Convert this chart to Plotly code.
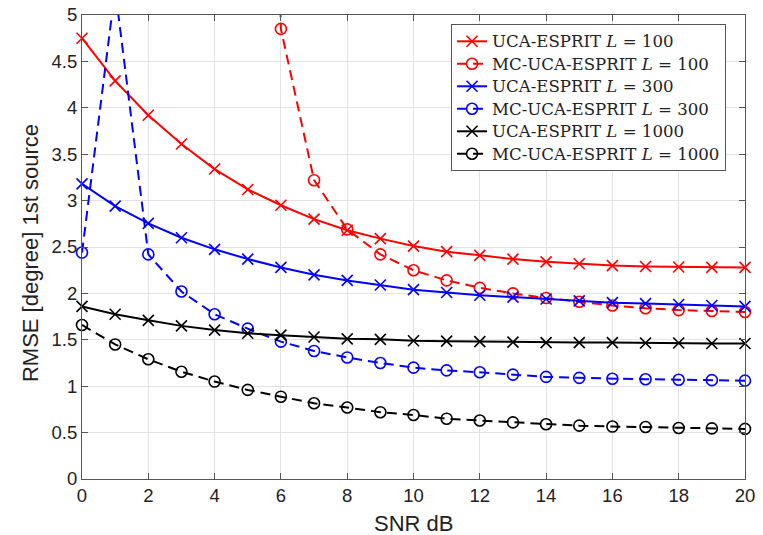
import plotly.graph_objects as go

snr = list(range(0, 21))

uca_100 = [4.75, 4.29, 3.92, 3.61, 3.34, 3.12, 2.95, 2.80, 2.68, 2.59, 2.51,
           2.45, 2.41, 2.37, 2.34, 2.32, 2.30, 2.29, 2.285, 2.28, 2.28]
mc_100 = [40.0, 36.0, 32.0, 28.0, 24.0, 20.0, 4.85, 3.22, 2.69, 2.42, 2.25,
          2.14, 2.06, 2.00, 1.95, 1.91, 1.87, 1.84, 1.82, 1.81, 1.80]
uca_300 = [3.18, 2.94, 2.755, 2.60, 2.475, 2.37, 2.28, 2.20, 2.14, 2.09, 2.04,
           2.01, 1.98, 1.96, 1.94, 1.92, 1.90, 1.89, 1.88, 1.87, 1.86]
mc_300 = [2.44, 5.28, 2.42, 2.02, 1.775, 1.62, 1.48, 1.38, 1.31, 1.25, 1.20,
          1.17, 1.15, 1.125, 1.10, 1.09, 1.08, 1.075, 1.07, 1.065, 1.06]
uca_1000 = [1.86, 1.775, 1.71, 1.65, 1.605, 1.57, 1.55, 1.53, 1.51, 1.505, 1.49,
            1.485, 1.48, 1.475, 1.47, 1.47, 1.47, 1.465, 1.465, 1.46, 1.46]
mc_1000 = [1.66, 1.45, 1.29, 1.156, 1.05, 0.96, 0.887, 0.816, 0.77, 0.72, 0.69,
           0.65, 0.63, 0.61, 0.59, 0.575, 0.565, 0.56, 0.55, 0.545, 0.54]

labels = ["UCA-ESPRIT <i>L</i> = 100", "MC-UCA-ESPRIT <i>L</i> = 100",
          "UCA-ESPRIT <i>L</i> = 300", "MC-UCA-ESPRIT <i>L</i> = 300",
          "UCA-ESPRIT <i>L</i> = 1000", "MC-UCA-ESPRIT <i>L</i> = 1000"]
values = [uca_100, mc_100, uca_300, mc_300, uca_1000, mc_1000]
colors = ["#ff0000", "#ff0000", "#0000ff", "#0000ff", "#000000", "#000000"]
dashes = ["solid", "10px,6px"] * 3
symbols = ["x-thin-open", "circle-open"] * 3

x_ticks = list(range(0, 21, 2))
y_ticks = [0, 0.5, 1, 1.5, 2, 2.5, 3, 3.5, 4, 4.5, 5]
y_ticktext = ["0", "0.5", "1", "1.5", "2", "2.5", "3", "3.5", "4", "4.5", "5"]

fig = go.Figure()
for name, vals, color, dash, sym in zip(labels, values, colors, dashes, symbols):
    fig.add_trace(go.Scatter(
        x=snr, y=vals, mode="lines+markers",
        name='<span style="font-size:16.6px">' + name + '</span>',
        line=dict(color=color, width=2, dash=dash),
        marker=dict(symbol=sym, size=11, color=color,
                    line=dict(color=color, width=1.6)),
        cliponaxis=False,
    ))

sans = "Liberation Sans, Arial, sans-serif"
axis_common = dict(
    showgrid=True, gridcolor="#e3e3e3", gridwidth=1,
    showline=True, linecolor="#555555", linewidth=1, mirror="ticks",
    ticks="inside", ticklen=6, tickcolor="#555555", zeroline=False,
    automargin=False, ticklabeloverflow="allow",
    tickfont=dict(family=sans, size=18.5, color="#222222"),
)

fig.update_layout(
    width=755, height=527,
    margin=dict(l=74, r=18, t=7, b=56),
    paper_bgcolor="white", plot_bgcolor="white",
    showlegend=True,
    legend=dict(
        x=0.9714, y=0.9805, xanchor="right", yanchor="top",
        bgcolor="white", bordercolor="#555555", borderwidth=1,
        font=dict(family="DejaVu Serif, serif", size=15, color="#222222"),
        tracegroupgap=0,
    ),
    annotations=[
        dict(text="SNR dB", xref="paper", yref="paper", x=0.5, y=-0.095,
             xanchor="center", yanchor="middle", showarrow=False,
             font=dict(family=sans, size=22, color="#222222")),
        dict(text="RMSE [degree] 1st source", xref="paper", yref="paper",
             x=-0.0784, y=0.487, xanchor="center", yanchor="middle",
             textangle=-90, showarrow=False,
             font=dict(family=sans, size=22, color="#222222")),
    ],
)
fig.update_xaxes(
    range=[0, 20], tickvals=x_ticks, ticktext=[str(v) for v in x_ticks],
    **axis_common,
)
fig.update_yaxes(
    range=[0, 5], tickvals=y_ticks, ticktext=y_ticktext,
    **axis_common,
)

fig.write_html("out.html")
